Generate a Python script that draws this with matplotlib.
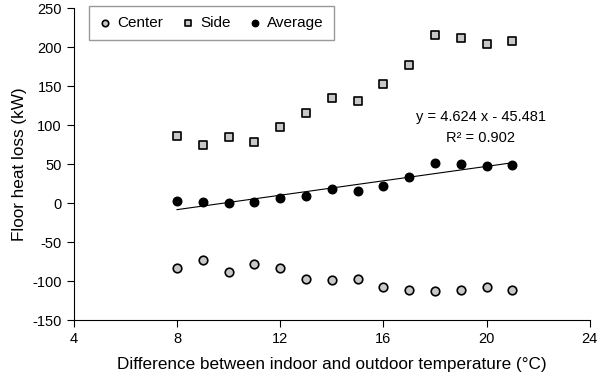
import numpy as np
import matplotlib
matplotlib.use("Agg")
import matplotlib.pyplot as plt

plt.rcParams["font.family"] = ["Liberation Sans", "DejaVu Sans"]
plt.rcParams["axes.unicode_minus"] = False

temp_diff = [8, 9, 10, 11, 12, 13, 14, 15, 16, 17, 18, 19, 20, 21]
center = [-83, -73, -88, -78, -83, -97, -99, -98, -108, -111, -113, -111, -108, -111]
side = [86, 74, 85, 78, 97, 116, 134, 131, 153, 177, 216, 212, 204, 208]
average = [2, 1, 0, 1, 7, 9, 18, 16, 22, 33, 51, 50, 48, 49]
slope, intercept, r2 = 4.624, -45.481, 0.902

fig = plt.figure(figsize=(6.0, 3.81), dpi=100)
ax = fig.add_axes([0.123, 0.16, 0.86, 0.819])

ax.scatter(temp_diff, center, s=38, marker="o", facecolor="#c8c8c8",
           edgecolor="black", linewidth=1.2, label="Center", zorder=3)
ax.scatter(temp_diff, side, s=38, marker="s", facecolor="#c8c8c8",
           edgecolor="black", linewidth=1.2, label="Side", zorder=3)
ax.scatter(temp_diff, average, s=38, marker="o", facecolor="black",
           edgecolor="black", label="Average", zorder=3)

# linear trend of the average
xf = np.array([temp_diff[0], temp_diff[-1]])
ax.plot(xf, slope * xf + intercept, color="black", lw=0.8, zorder=2)
ax.text(19.77, 110, f"y = {slope} x - {abs(intercept)}", ha="center", va="center",
        fontsize=10.5)
ax.text(19.77, 83, f"R² = {r2}", ha="center", va="center", fontsize=10.5)

ax.set_xlim(4, 24)
ax.set_ylim(-150, 250)
ax.set_xticks(range(4, 25, 4))
ax.set_yticks(range(-150, 251, 50))
ax.spines["top"].set_visible(False)
ax.spines["right"].set_visible(False)
ax.tick_params(direction="out", length=5, labelsize=10.5)
ax.set_xlabel("Difference between indoor and outdoor temperature (°C)", fontsize=12.3,
              labelpad=8)
ax.set_ylabel("Floor heat loss (kW)", fontsize=12.3)

leg = ax.legend(loc="upper left", bbox_to_anchor=(0.03, 1.005), ncol=3,
                fontsize=11, frameon=True, fancybox=False, handlelength=0.8,
                handletextpad=0.4, columnspacing=1.2, markerscale=0.75,
                borderpad=0.65, borderaxespad=0)
leg.get_frame().set_edgecolor("#808080")
leg.get_frame().set_linewidth(1.0)

fig.savefig("out.png", dpi=100)
